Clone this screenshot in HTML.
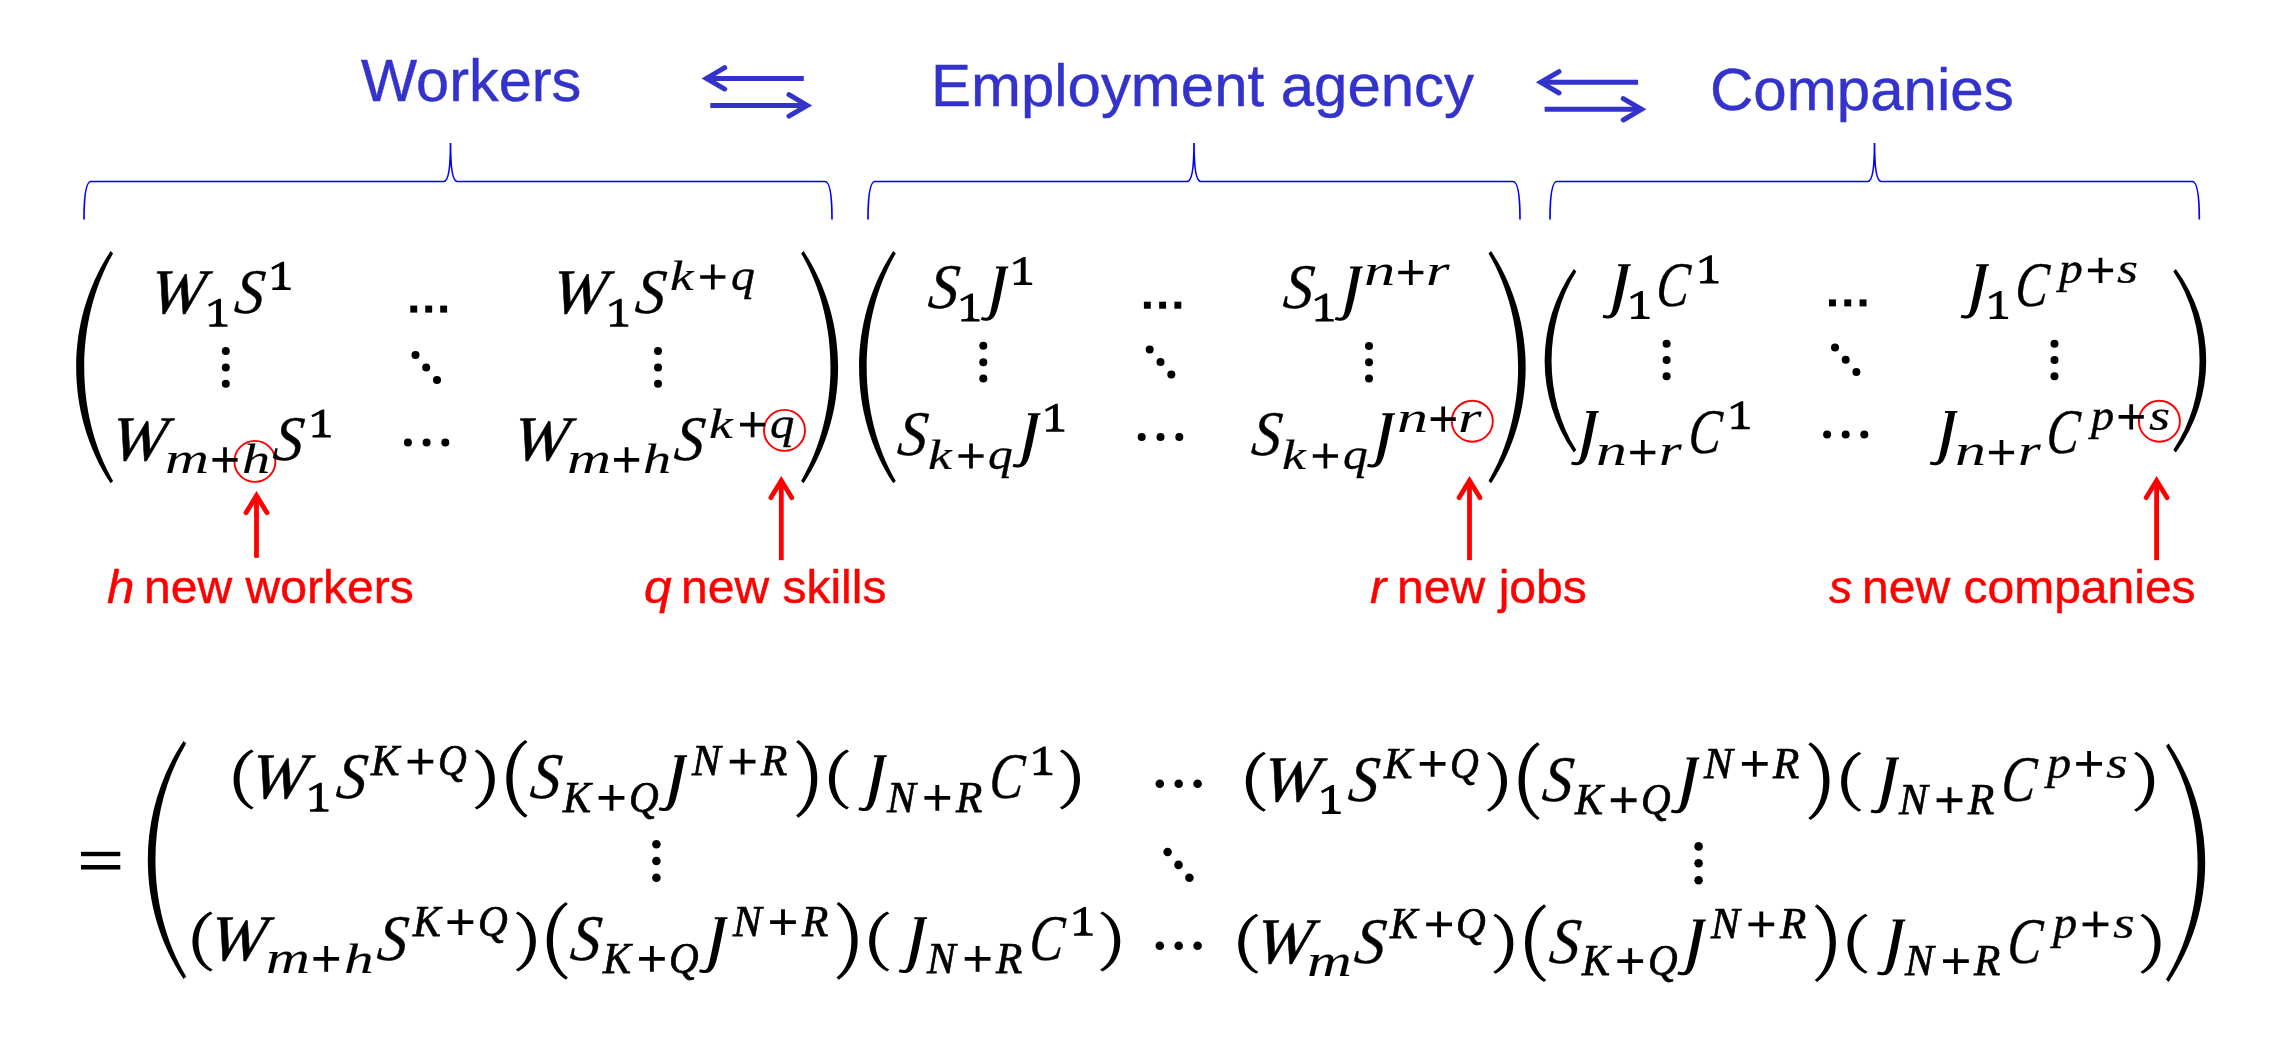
<!DOCTYPE html>
<html><head><meta charset="utf-8"><title>Workers - Employment agency - Companies</title>
<style>
html,body{margin:0;padding:0;background:#fff}
#p{position:relative;width:2280px;height:1052px;overflow:hidden;background:#fff}
.g{position:absolute;line-height:1;white-space:pre;transform-origin:0 0;color:#000}
.si{font-family:"Liberation Serif",serif;font-style:italic}
.si{-webkit-text-stroke:0.55px #000}
.sm{-webkit-text-stroke:0.45px #000}
.su{-webkit-text-stroke:0.75px #000}
.ts{-webkit-text-stroke:0.45px currentColor}
.sr{font-family:"Liberation Serif",serif}
.sa{font-family:"Liberation Sans",sans-serif}
.sai{font-family:"Liberation Sans",sans-serif;font-style:italic}
svg{position:absolute;left:0;top:0}
#t{position:absolute;left:0;top:0;width:2280px;height:1052px;will-change:transform}
</style></head>
<body><div id="p">
<svg width="2280" height="1052" viewBox="0 0 2280 1052">
<g stroke="#3333cc" stroke-width="5.0" fill="none" stroke-linecap="round" stroke-linejoin="miter" stroke-miterlimit="10"><path d="M706.5 78.4H803.8" stroke-linecap="butt"/><path d="M724.7 67.7L706.5 78.4L724.7 89.1"/><path d="M710.3 105.4H807.2" stroke-linecap="butt"/><path d="M789.0 94.7L807.2 105.4L789.0 116.1"/></g>
<g stroke="#3333cc" stroke-width="5.0" fill="none" stroke-linecap="round" stroke-linejoin="miter" stroke-miterlimit="10"><path d="M1540.8 82.3H1638.1" stroke-linecap="butt"/><path d="M1559.0 71.6L1540.8 82.3L1559.0 93.0"/><path d="M1544.6 109.3H1641.5" stroke-linecap="butt"/><path d="M1623.3 98.6L1641.5 109.3L1623.3 120.0"/></g>
<path d="M84 219.5Q84 181.5 91 181.5H443.7Q450.5 181.5 450.5 143Q450.5 181.5 457.3 181.5H825Q832 181.5 832 219.5" fill="none" stroke="#0000ff" stroke-width="1.7"/>
<path d="M868 219.5Q868 181.5 875 181.5H1187.2Q1194 181.5 1194 143Q1194 181.5 1200.8 181.5H1513Q1520 181.5 1520 219.5" fill="none" stroke="#0000ff" stroke-width="1.7"/>
<path d="M1550 219.5Q1550 181.5 1557 181.5H1867.7Q1874.5 181.5 1874.5 143Q1874.5 181.5 1881.3 181.5H2192.3Q2199.3 181.5 2199.3 219.5" fill="none" stroke="#0000ff" stroke-width="1.7"/>
<g stroke="#ff0000" stroke-width="4.8" fill="none" stroke-linecap="round" stroke-linejoin="miter" stroke-miterlimit="10"><path d="M256.5 495.6V557.8" stroke-linecap="butt"/><path d="M246.0 512.8L256.5 495.6L267.0 512.8"/></g>
<g stroke="#ff0000" stroke-width="4.8" fill="none" stroke-linecap="round" stroke-linejoin="miter" stroke-miterlimit="10"><path d="M781.3 480.6V560.2" stroke-linecap="butt"/><path d="M770.8 497.8L781.3 480.6L791.8 497.8"/></g>
<g stroke="#ff0000" stroke-width="4.8" fill="none" stroke-linecap="round" stroke-linejoin="miter" stroke-miterlimit="10"><path d="M1469.5 480.6V560.2" stroke-linecap="butt"/><path d="M1459.0 497.8L1469.5 480.6L1480.0 497.8"/></g>
<g stroke="#ff0000" stroke-width="4.8" fill="none" stroke-linecap="round" stroke-linejoin="miter" stroke-miterlimit="10"><path d="M2156.6 480.6V560.2" stroke-linecap="butt"/><path d="M2146.1 497.8L2156.6 480.6L2167.1 497.8"/></g>
<circle cx="254.9" cy="461.4" r="20.5" fill="none" stroke="#ff0000" stroke-width="1.9"/>
<circle cx="784.5" cy="430.4" r="20.5" fill="none" stroke="#ff0000" stroke-width="1.9"/>
<circle cx="1472.3" cy="421.2" r="20.5" fill="none" stroke="#ff0000" stroke-width="1.9"/>
<circle cx="2159.4" cy="421.2" r="20.5" fill="none" stroke="#ff0000" stroke-width="1.9"/>
<path d="M110.6 251.0C64.7 320.7 64.7 413.6 110.6 483.3L113.1 480.9C74.6 413.6 74.6 320.7 113.1 253.4Z" fill="#000"/>
<path d="M803.6 251.0C849.6 320.7 849.6 413.6 803.6 483.3L801.1 480.9C840.3 413.6 840.3 320.7 801.1 253.4Z" fill="#000"/>
<path d="M209.21 326.80L209.21 324.45L212.62 324.35Q216.08 324.14 216.08 321.69L216.08 303.20L209.41 306.67L208.07 304.52L218.92 298.70L220.94 298.70L220.94 321.69Q220.94 324.14 224.40 324.35L227.50 324.45L227.50 326.80Z" fill="#000"/>
<path d="M272.41 289.90L272.41 287.55L275.82 287.45Q279.28 287.24 279.28 284.79L279.28 266.30L272.61 269.77L271.27 267.62L282.12 261.80L284.13 261.80L284.13 284.79Q284.13 287.24 287.60 287.45L290.70 287.55L290.70 289.90Z" fill="#000"/>
<rect x="410.30" y="305.60" width="6.9" height="7.0" fill="#000"/>
<rect x="425.25" y="305.60" width="6.9" height="7.0" fill="#000"/>
<rect x="440.20" y="305.60" width="6.9" height="7.0" fill="#000"/>
<path d="M610.01 326.80L610.01 324.45L613.42 324.35Q616.88 324.14 616.88 321.69L616.88 303.20L610.21 306.67L608.87 304.52L619.72 298.70L621.74 298.70L621.74 321.69Q621.74 324.14 625.20 324.35L628.30 324.45L628.30 326.80Z" fill="#000"/>
<path d="M700.2 277.0H725.4M712.8 264.4V289.6" stroke="#000" stroke-width="3.7" fill="none"/>
<circle cx="225.8" cy="351.0" r="4.00" fill="#000"/>
<circle cx="225.8" cy="367.4" r="4.00" fill="#000"/>
<circle cx="225.8" cy="383.8" r="4.00" fill="#000"/>
<circle cx="415.5" cy="355.0" r="4.00" fill="#000"/>
<circle cx="426.2" cy="367.4" r="4.00" fill="#000"/>
<circle cx="437.0" cy="379.9" r="4.00" fill="#000"/>
<circle cx="658.0" cy="351.0" r="4.00" fill="#000"/>
<circle cx="658.0" cy="367.4" r="4.00" fill="#000"/>
<circle cx="658.0" cy="383.8" r="4.00" fill="#000"/>
<path d="M212.4 459.9H237.6M225.0 447.3V472.5" stroke="#000" stroke-width="3.7" fill="none"/>
<path d="M312.51 437.50L312.51 435.15L315.92 435.05Q319.38 434.84 319.38 432.39L319.38 413.90L312.71 417.37L311.37 415.22L322.22 409.40L324.24 409.40L324.24 432.39Q324.24 434.84 327.70 435.05L330.80 435.15L330.80 437.50Z" fill="#000"/>
<circle cx="407.9" cy="442.4" r="4.00" fill="#000"/>
<circle cx="426.6" cy="442.4" r="4.00" fill="#000"/>
<circle cx="445.3" cy="442.4" r="4.00" fill="#000"/>
<path d="M614.0 459.9H639.2M626.6 447.3V472.5" stroke="#000" stroke-width="3.7" fill="none"/>
<path d="M740.0 424.7H765.2M752.6 412.1V437.3" stroke="#000" stroke-width="3.7" fill="none"/>
<path d="M893.2 251.0C847.7 320.7 847.7 413.6 893.2 483.3L895.8 480.9C857.0 413.6 857.0 320.7 895.8 253.4Z" fill="#000"/>
<path d="M1491.1 251.0C1537.2 320.7 1537.2 413.6 1491.1 483.3L1488.5 480.9C1528.0 413.6 1528.0 320.7 1488.5 253.4Z" fill="#000"/>
<path d="M961.31 321.50L961.31 319.15L964.72 319.05Q968.18 318.84 968.18 316.39L968.18 297.90L961.51 301.37L960.17 299.22L971.02 293.40L973.04 293.40L973.04 316.39Q973.04 318.84 976.50 319.05L979.60 319.15L979.60 321.50Z" fill="#000"/>
<path d="M995.84 266.50L1008.40 266.50L1008.02 268.16L1006.01 268.25L1000.00 298.67L998.37 305.10C996.75 312.81 994.08 320.80 987.11 320.80C984.72 320.80 982.33 320.41 980.90 319.73L981.85 317.10C983.29 317.58 984.91 317.78 986.25 317.78C989.11 317.78 990.26 313.29 991.12 309.00L993.31 298.67L999.33 268.45L996.18 268.45Z" fill="#000"/>
<path d="M1013.91 285.00L1013.91 282.65L1017.32 282.55Q1020.78 282.34 1020.78 279.89L1020.78 261.40L1014.11 264.87L1012.77 262.72L1023.62 256.90L1025.63 256.90L1025.63 279.89Q1025.63 282.34 1029.10 282.55L1032.20 282.65L1032.20 285.00Z" fill="#000"/>
<rect x="1143.90" y="301.70" width="6.9" height="7.0" fill="#000"/>
<rect x="1159.15" y="301.70" width="6.9" height="7.0" fill="#000"/>
<rect x="1174.40" y="301.70" width="6.9" height="7.0" fill="#000"/>
<path d="M1315.51 321.50L1315.51 319.15L1318.92 319.05Q1322.38 318.84 1322.38 316.39L1322.38 297.90L1315.71 301.37L1314.37 299.22L1325.22 293.40L1327.23 293.40L1327.23 316.39Q1327.23 318.84 1330.70 319.05L1333.80 319.15L1333.80 321.50Z" fill="#000"/>
<path d="M1350.02 266.50L1362.80 266.50L1362.41 268.16L1360.37 268.25L1354.24 298.67L1352.59 305.10C1350.94 312.81 1348.22 320.80 1341.12 320.80C1338.69 320.80 1336.26 320.41 1334.80 319.73L1335.77 317.10C1337.23 317.58 1338.88 317.78 1340.24 317.78C1343.16 317.78 1344.33 313.29 1345.20 309.00L1347.44 298.67L1353.56 268.45L1350.36 268.45Z" fill="#000"/>
<path d="M1398.2 272.5H1423.4M1410.8 259.9V285.0" stroke="#000" stroke-width="3.7" fill="none"/>
<circle cx="983.3" cy="345.8" r="4.00" fill="#000"/>
<circle cx="983.3" cy="362.2" r="4.00" fill="#000"/>
<circle cx="983.3" cy="378.5" r="4.00" fill="#000"/>
<circle cx="1149.7" cy="349.6" r="4.00" fill="#000"/>
<circle cx="1160.5" cy="362.0" r="4.00" fill="#000"/>
<circle cx="1171.3" cy="374.4" r="4.00" fill="#000"/>
<circle cx="1369.0" cy="346.0" r="4.00" fill="#000"/>
<circle cx="1369.0" cy="362.2" r="4.00" fill="#000"/>
<circle cx="1369.0" cy="378.4" r="4.00" fill="#000"/>
<path d="M958.4 456.0H983.6M971.0 443.4V468.6" stroke="#000" stroke-width="3.7" fill="none"/>
<path d="M1027.87 413.20L1040.70 413.20L1040.31 414.86L1038.26 414.95L1032.11 445.37L1030.46 451.80C1028.80 459.51 1026.06 467.50 1018.94 467.50C1016.50 467.50 1014.06 467.11 1012.60 466.43L1013.58 463.80C1015.04 464.28 1016.70 464.48 1018.06 464.48C1020.99 464.48 1022.16 459.99 1023.04 455.70L1025.28 445.37L1031.43 415.15L1028.21 415.15Z" fill="#000"/>
<path d="M1046.11 431.80L1046.11 429.45L1049.52 429.35Q1052.98 429.14 1052.98 426.69L1052.98 408.20L1046.31 411.67L1044.97 409.52L1055.82 403.70L1057.84 403.70L1057.84 426.69Q1057.84 429.14 1061.30 429.35L1064.40 429.45L1064.40 431.80Z" fill="#000"/>
<circle cx="1141.7" cy="437.1" r="4.00" fill="#000"/>
<circle cx="1160.5" cy="437.1" r="4.00" fill="#000"/>
<circle cx="1179.3" cy="437.1" r="4.00" fill="#000"/>
<path d="M1312.8 456.0H1338.0M1325.4 443.4V468.6" stroke="#000" stroke-width="3.7" fill="none"/>
<path d="M1382.27 413.20L1395.10 413.20L1394.71 414.86L1392.66 414.95L1386.51 445.37L1384.86 451.80C1383.20 459.51 1380.46 467.50 1373.34 467.50C1370.90 467.50 1368.46 467.11 1367.00 466.43L1367.98 463.80C1369.44 464.28 1371.10 464.48 1372.46 464.48C1375.39 464.48 1376.56 459.99 1377.44 455.70L1379.68 445.37L1385.83 415.15L1382.61 415.15Z" fill="#000"/>
<path d="M1430.6 419.1H1455.8M1443.2 406.5V431.7" stroke="#000" stroke-width="3.7" fill="none"/>
<path d="M1573.8 269.0C1535.0 324.0 1535.0 397.4 1573.8 452.4L1576.3 450.0C1543.4 397.4 1543.4 324.0 1576.3 271.4Z" fill="#000"/>
<path d="M2175.9 269.0C2216.4 324.0 2216.4 397.4 2175.9 452.4L2173.3 450.0C2208.4 397.4 2208.4 324.0 2173.3 271.4Z" fill="#000"/>
<path d="M1617.99 264.20L1631.00 264.20L1630.60 265.86L1628.53 265.95L1622.29 296.37L1620.61 302.80C1618.93 310.51 1616.16 318.50 1608.93 318.50C1606.46 318.50 1603.98 318.11 1602.50 317.43L1603.49 314.80C1604.97 315.28 1606.66 315.48 1608.04 315.48C1611.01 315.48 1612.20 310.99 1613.09 306.70L1615.36 296.37L1621.60 266.15L1618.33 266.15Z" fill="#000"/>
<path d="M1631.21 319.10L1631.21 316.75L1634.62 316.65Q1638.08 316.44 1638.08 313.99L1638.08 295.50L1631.41 298.97L1630.07 296.82L1640.92 291.00L1642.93 291.00L1642.93 313.99Q1642.93 316.44 1646.40 316.65L1649.50 316.75L1649.50 319.10Z" fill="#000"/>
<path d="M1700.21 283.40L1700.21 281.05L1703.62 280.95Q1707.08 280.74 1707.08 278.29L1707.08 259.80L1700.41 263.27L1699.07 261.12L1709.92 255.30L1711.93 255.30L1711.93 278.29Q1711.93 280.74 1715.40 280.95L1718.50 281.05L1718.50 283.40Z" fill="#000"/>
<rect x="1829.00" y="299.40" width="6.9" height="7.0" fill="#000"/>
<rect x="1844.30" y="299.40" width="6.9" height="7.0" fill="#000"/>
<rect x="1859.60" y="299.40" width="6.9" height="7.0" fill="#000"/>
<path d="M1976.09 264.20L1989.10 264.20L1988.70 265.86L1986.63 265.95L1980.39 296.37L1978.71 302.80C1977.03 310.51 1974.26 318.50 1967.03 318.50C1964.56 318.50 1962.08 318.11 1960.60 317.43L1961.59 314.80C1963.07 315.28 1964.76 315.48 1966.14 315.48C1969.11 315.48 1970.30 310.99 1971.19 306.70L1973.46 296.37L1979.70 266.15L1976.43 266.15Z" fill="#000"/>
<path d="M1989.81 319.10L1989.81 316.75L1993.22 316.65Q1996.68 316.44 1996.68 313.99L1996.68 295.50L1990.01 298.97L1988.67 296.82L1999.52 291.00L2001.53 291.00L2001.53 313.99Q2001.53 316.44 2005.00 316.65L2008.10 316.75L2008.10 319.10Z" fill="#000"/>
<path d="M2087.9 270.4H2113.1M2100.5 257.8V283.0" stroke="#000" stroke-width="3.7" fill="none"/>
<circle cx="1666.6" cy="343.7" r="4.00" fill="#000"/>
<circle cx="1666.6" cy="360.0" r="4.00" fill="#000"/>
<circle cx="1666.6" cy="376.3" r="4.00" fill="#000"/>
<circle cx="1835.0" cy="347.5" r="4.00" fill="#000"/>
<circle cx="1845.7" cy="359.8" r="4.00" fill="#000"/>
<circle cx="1856.4" cy="372.1" r="4.00" fill="#000"/>
<circle cx="2054.5" cy="343.7" r="4.00" fill="#000"/>
<circle cx="2054.5" cy="360.0" r="4.00" fill="#000"/>
<circle cx="2054.5" cy="376.3" r="4.00" fill="#000"/>
<path d="M1586.16 411.00L1598.90 411.00L1598.51 412.66L1596.48 412.75L1590.38 443.17L1588.73 449.60C1587.08 457.31 1584.37 465.30 1577.30 465.30C1574.88 465.30 1572.45 464.91 1571.00 464.23L1571.97 461.60C1573.42 462.08 1575.07 462.28 1576.42 462.28C1579.33 462.28 1580.49 457.79 1581.37 453.50L1583.59 443.17L1589.70 412.95L1586.50 412.95Z" fill="#000"/>
<path d="M1630.2 452.5H1655.4M1642.8 439.9V465.1" stroke="#000" stroke-width="3.7" fill="none"/>
<path d="M1731.51 429.30L1731.51 426.95L1734.92 426.85Q1738.38 426.64 1738.38 424.19L1738.38 405.70L1731.71 409.17L1730.37 407.02L1741.22 401.20L1743.23 401.20L1743.23 424.19Q1743.23 426.64 1746.70 426.85L1749.80 426.95L1749.80 429.30Z" fill="#000"/>
<circle cx="1827.1" cy="434.5" r="4.00" fill="#000"/>
<circle cx="1845.7" cy="434.5" r="4.00" fill="#000"/>
<circle cx="1864.3" cy="434.5" r="4.00" fill="#000"/>
<path d="M1944.86 411.00L1957.60 411.00L1957.21 412.66L1955.18 412.75L1949.08 443.17L1947.43 449.60C1945.78 457.31 1943.07 465.30 1936.00 465.30C1933.58 465.30 1931.15 464.91 1929.70 464.23L1930.67 461.60C1932.12 462.08 1933.77 462.28 1935.12 462.28C1938.03 462.28 1939.19 457.79 1940.07 453.50L1942.29 443.17L1948.40 412.95L1945.20 412.95Z" fill="#000"/>
<path d="M1989.0 452.5H2014.1M2001.5 439.9V465.1" stroke="#000" stroke-width="3.7" fill="none"/>
<path d="M2118.6 416.9H2143.8M2131.2 404.3V429.5" stroke="#000" stroke-width="3.7" fill="none"/>
<rect x="81.0" y="851.8" width="39.3" height="4.4" fill="#000"/><rect x="81.0" y="865.0" width="39.3" height="4.5" fill="#000"/>
<path d="M183.6 741.0C135.9 812.4 135.9 907.6 183.6 979.0L186.2 976.6C145.2 907.6 145.2 812.4 186.2 743.4Z" fill="#000"/>
<path d="M2168.6 743.5C2217.4 815.0 2217.4 910.5 2168.6 982.0L2166.0 979.6C2208.1 910.5 2208.1 815.0 2166.0 745.9Z" fill="#000"/>
<path d="M251.5 749.4C227.6 760.8 227.6 798.0 251.5 809.4L253.7 807.4C234.9 798.0 234.9 760.8 253.7 751.4Z" fill="#000"/>
<path d="M309.91 811.70L309.91 809.28L313.38 809.18Q316.89 808.97 316.89 806.45L316.89 787.42L310.12 791.00L308.75 788.79L319.78 782.80L321.83 782.80L321.83 806.45Q321.83 808.97 325.34 809.18L328.49 809.28L328.49 811.70Z" fill="#000"/>
<path d="M407.6 761.6H433.3M420.4 748.7V774.5" stroke="#000" stroke-width="3.85" fill="none"/>
<path d="M476.9 749.4C500.8 760.8 500.8 798.0 476.9 809.4L474.7 807.4C493.5 798.0 493.5 760.8 474.7 751.4Z" fill="#000"/>
<path d="M525.2 740.0C500.0 756.3 500.0 801.4 525.2 817.7L527.5 815.6C507.6 801.4 507.6 756.3 527.5 742.1Z" fill="#000"/>
<path d="M598.6 797.9H624.4M611.5 785.0V810.8" stroke="#000" stroke-width="3.85" fill="none"/>
<path d="M674.20 755.30L687.30 755.30L686.90 757.00L684.81 757.10L678.53 788.33L676.84 794.94C675.14 802.84 672.35 811.05 665.08 811.05C662.59 811.05 660.09 810.65 658.60 809.95L659.60 807.25C661.09 807.75 662.79 807.95 664.18 807.95C667.17 807.95 668.37 803.34 669.26 798.94L671.55 788.33L677.83 757.30L674.54 757.30Z" fill="#000"/>
<path d="M729.7 761.6H755.5M742.6 748.7V774.5" stroke="#000" stroke-width="3.85" fill="none"/>
<path d="M798.4 740.0C823.6 756.3 823.6 801.4 798.4 817.7L796.1 815.6C816.0 801.4 816.0 756.3 796.1 742.1Z" fill="#000"/>
<path d="M846.8 749.4C822.9 760.8 822.9 798.0 846.8 809.4L849.0 807.4C830.2 798.0 830.2 760.8 849.0 751.4Z" fill="#000"/>
<path d="M873.89 755.30L886.90 755.30L886.50 757.00L884.43 757.10L878.19 788.33L876.51 794.94C874.83 802.84 872.06 811.05 864.83 811.05C862.36 811.05 859.88 810.65 858.40 809.95L859.39 807.25C860.87 807.75 862.56 807.95 863.94 807.95C866.91 807.95 868.10 803.34 868.99 798.94L871.26 788.33L877.50 757.30L874.23 757.30Z" fill="#000"/>
<path d="M924.4 797.9H950.2M937.3 785.0V810.8" stroke="#000" stroke-width="3.85" fill="none"/>
<path d="M1033.81 775.30L1033.81 772.88L1037.27 772.78Q1040.79 772.57 1040.79 770.05L1040.79 751.02L1034.02 754.60L1032.65 752.39L1043.68 746.40L1045.73 746.40L1045.73 770.05Q1045.73 772.57 1049.24 772.78L1052.39 772.88L1052.39 775.30Z" fill="#000"/>
<path d="M1062.1 749.4C1086.0 760.8 1086.0 798.0 1062.1 809.4L1059.9 807.4C1078.7 798.0 1078.7 760.8 1059.9 751.4Z" fill="#000"/>
<circle cx="1159.8" cy="783.8" r="4.30" fill="#000"/>
<circle cx="1178.7" cy="783.8" r="4.30" fill="#000"/>
<circle cx="1197.6" cy="783.8" r="4.30" fill="#000"/>
<path d="M1263.7 751.7C1239.8 763.1 1239.8 800.3 1263.7 811.7L1265.9 809.7C1247.1 800.3 1247.1 763.1 1265.9 753.7Z" fill="#000"/>
<path d="M1322.11 814.00L1322.11 811.58L1325.57 811.48Q1329.09 811.27 1329.09 808.75L1329.09 789.72L1322.32 793.30L1320.95 791.09L1331.98 785.10L1334.03 785.10L1334.03 808.75Q1334.03 811.27 1337.54 811.48L1340.69 811.58L1340.69 814.00Z" fill="#000"/>
<path d="M1419.7 763.9H1445.5M1432.6 751.0V776.8" stroke="#000" stroke-width="3.85" fill="none"/>
<path d="M1489.1 751.7C1513.0 763.1 1513.0 800.3 1489.1 811.7L1486.9 809.7C1505.7 800.3 1505.7 763.1 1486.9 753.7Z" fill="#000"/>
<path d="M1537.5 742.3C1512.2 758.6 1512.2 803.7 1537.5 820.0L1539.7 817.9C1519.8 803.7 1519.8 758.6 1539.7 744.4Z" fill="#000"/>
<path d="M1610.8 800.2H1636.6M1623.7 787.3V813.1" stroke="#000" stroke-width="3.85" fill="none"/>
<path d="M1686.40 757.60L1699.50 757.60L1699.10 759.30L1697.01 759.40L1690.73 790.63L1689.04 797.24C1687.34 805.14 1684.55 813.35 1677.28 813.35C1674.79 813.35 1672.29 812.95 1670.80 812.25L1671.80 809.55C1673.29 810.05 1674.99 810.25 1676.38 810.25C1679.37 810.25 1680.57 805.64 1681.46 801.24L1683.75 790.63L1690.03 759.60L1686.74 759.60Z" fill="#000"/>
<path d="M1741.9 763.9H1767.7M1754.8 751.0V776.8" stroke="#000" stroke-width="3.85" fill="none"/>
<path d="M1810.5 742.3C1835.8 758.6 1835.8 803.7 1810.5 820.0L1808.3 817.9C1828.2 803.7 1828.2 758.6 1808.3 744.4Z" fill="#000"/>
<path d="M1859.0 751.7C1835.1 763.1 1835.1 800.3 1859.0 811.7L1861.2 809.7C1842.4 800.3 1842.4 763.1 1861.2 753.7Z" fill="#000"/>
<path d="M1886.09 757.60L1899.10 757.60L1898.70 759.30L1896.63 759.40L1890.39 790.63L1888.71 797.24C1887.03 805.14 1884.26 813.35 1877.03 813.35C1874.56 813.35 1872.08 812.95 1870.60 812.25L1871.59 809.55C1873.07 810.05 1874.76 810.25 1876.14 810.25C1879.11 810.25 1880.30 805.64 1881.19 801.24L1883.46 790.63L1889.70 759.60L1886.43 759.60Z" fill="#000"/>
<path d="M1936.6 800.2H1962.4M1949.5 787.3V813.1" stroke="#000" stroke-width="3.85" fill="none"/>
<path d="M2076.2 763.9H2102.0M2089.1 751.0V776.8" stroke="#000" stroke-width="3.85" fill="none"/>
<path d="M2136.3 751.7C2160.2 763.1 2160.2 800.3 2136.3 811.7L2134.1 809.7C2152.9 800.3 2152.9 763.1 2134.1 753.7Z" fill="#000"/>
<circle cx="656.4" cy="844.3" r="4.30" fill="#000"/>
<circle cx="656.4" cy="861.0" r="4.30" fill="#000"/>
<circle cx="656.4" cy="877.7" r="4.30" fill="#000"/>
<circle cx="1167.6" cy="852.0" r="4.30" fill="#000"/>
<circle cx="1178.5" cy="864.9" r="4.30" fill="#000"/>
<circle cx="1189.4" cy="877.8" r="4.30" fill="#000"/>
<circle cx="1698.6" cy="846.4" r="4.30" fill="#000"/>
<circle cx="1698.6" cy="863.3" r="4.30" fill="#000"/>
<circle cx="1698.6" cy="880.2" r="4.30" fill="#000"/>
<path d="M210.4 911.4C186.5 922.8 186.5 960.0 210.4 971.4L212.6 969.4C193.8 960.0 193.8 922.8 212.6 913.4Z" fill="#000"/>
<path d="M313.4 958.8H339.1M326.2 945.9V971.7" stroke="#000" stroke-width="3.85" fill="none"/>
<path d="M447.5 922.1H473.3M460.4 909.2V935.0" stroke="#000" stroke-width="3.85" fill="none"/>
<path d="M518.0 911.4C541.9 922.8 541.9 960.0 518.0 971.4L515.8 969.4C534.6 960.0 534.6 922.8 515.8 913.4Z" fill="#000"/>
<path d="M565.7 902.0C540.4 918.3 540.4 963.4 565.7 979.7L567.9 977.6C548.0 963.4 548.0 918.3 567.9 904.1Z" fill="#000"/>
<path d="M639.0 958.8H664.8M651.9 945.9V971.7" stroke="#000" stroke-width="3.85" fill="none"/>
<path d="M714.60 917.30L727.70 917.30L727.30 919.00L725.21 919.10L718.93 950.33L717.24 956.94C715.54 964.84 712.75 973.05 705.48 973.05C702.99 973.05 700.49 972.65 699.00 971.95L700.00 969.25C701.49 969.75 703.19 969.95 704.58 969.95C707.57 969.95 708.77 965.34 709.66 960.94L711.95 950.33L718.23 919.30L714.94 919.30Z" fill="#000"/>
<path d="M770.1 922.1H795.9M783.0 909.2V935.0" stroke="#000" stroke-width="3.85" fill="none"/>
<path d="M838.8 902.0C864.0 918.3 864.0 963.4 838.8 979.7L836.5 977.6C856.4 963.4 856.4 918.3 836.5 904.1Z" fill="#000"/>
<path d="M887.1 911.4C863.2 922.8 863.2 960.0 887.1 971.4L889.3 969.4C870.5 960.0 870.5 922.8 889.3 913.4Z" fill="#000"/>
<path d="M914.19 917.30L927.20 917.30L926.80 919.00L924.73 919.10L918.49 950.33L916.81 956.94C915.13 964.84 912.36 973.05 905.13 973.05C902.66 973.05 900.18 972.65 898.70 971.95L899.69 969.25C901.17 969.75 902.86 969.95 904.24 969.95C907.21 969.95 908.40 965.34 909.29 960.94L911.56 950.33L917.80 919.30L914.53 919.30Z" fill="#000"/>
<path d="M964.7 958.8H990.5M977.6 945.9V971.7" stroke="#000" stroke-width="3.85" fill="none"/>
<path d="M1074.11 935.80L1074.11 933.38L1077.58 933.28Q1081.09 933.07 1081.09 930.55L1081.09 911.52L1074.32 915.10L1072.96 912.89L1083.98 906.90L1086.03 906.90L1086.03 930.55Q1086.03 933.07 1089.55 933.28L1092.70 933.38L1092.70 935.80Z" fill="#000"/>
<path d="M1102.4 911.4C1126.3 922.8 1126.3 960.0 1102.4 971.4L1100.2 969.4C1119.0 960.0 1119.0 922.8 1100.2 913.4Z" fill="#000"/>
<circle cx="1159.8" cy="945.7" r="4.30" fill="#000"/>
<circle cx="1178.7" cy="945.7" r="4.30" fill="#000"/>
<circle cx="1197.6" cy="945.7" r="4.30" fill="#000"/>
<path d="M1256.2 913.7C1232.3 925.1 1232.3 962.3 1256.2 973.7L1258.4 971.7C1239.6 962.3 1239.6 925.1 1258.4 915.7Z" fill="#000"/>
<path d="M1426.2 924.4H1452.0M1439.1 911.5V937.3" stroke="#000" stroke-width="3.85" fill="none"/>
<path d="M1495.5 913.7C1519.4 925.1 1519.4 962.3 1495.5 973.7L1493.3 971.7C1512.1 962.3 1512.1 925.1 1493.3 915.7Z" fill="#000"/>
<path d="M1544.0 904.3C1518.7 920.6 1518.7 965.7 1544.0 982.0L1546.2 979.9C1526.3 965.7 1526.3 920.6 1546.2 906.4Z" fill="#000"/>
<path d="M1617.3 961.1H1643.1M1630.2 948.2V974.0" stroke="#000" stroke-width="3.85" fill="none"/>
<path d="M1692.90 919.60L1706.00 919.60L1705.60 921.30L1703.51 921.40L1697.23 952.63L1695.54 959.24C1693.84 967.14 1691.05 975.35 1683.78 975.35C1681.29 975.35 1678.79 974.95 1677.30 974.25L1678.30 971.55C1679.79 972.05 1681.49 972.25 1682.88 972.25C1685.87 972.25 1687.07 967.64 1687.96 963.24L1690.25 952.63L1696.53 921.60L1693.24 921.60Z" fill="#000"/>
<path d="M1748.4 924.4H1774.2M1761.3 911.5V937.3" stroke="#000" stroke-width="3.85" fill="none"/>
<path d="M1817.0 904.3C1842.3 920.6 1842.3 965.7 1817.0 982.0L1814.8 979.9C1834.7 965.7 1834.7 920.6 1814.8 906.4Z" fill="#000"/>
<path d="M1865.4 913.7C1841.5 925.1 1841.5 962.3 1865.4 973.7L1867.6 971.7C1848.8 962.3 1848.8 925.1 1867.6 915.7Z" fill="#000"/>
<path d="M1892.49 919.60L1905.50 919.60L1905.10 921.30L1903.03 921.40L1896.79 952.63L1895.11 959.24C1893.43 967.14 1890.66 975.35 1883.43 975.35C1880.96 975.35 1878.48 974.95 1877.00 974.25L1877.99 971.55C1879.47 972.05 1881.16 972.25 1882.54 972.25C1885.51 972.25 1886.70 967.64 1887.59 963.24L1889.86 952.63L1896.10 921.60L1892.83 921.60Z" fill="#000"/>
<path d="M1943.0 961.1H1968.8M1955.9 948.2V974.0" stroke="#000" stroke-width="3.85" fill="none"/>
<path d="M2082.6 924.4H2108.4M2095.5 911.5V937.3" stroke="#000" stroke-width="3.85" fill="none"/>
<path d="M2142.7 913.7C2166.6 925.1 2166.6 962.3 2142.7 973.7L2140.5 971.7C2159.3 962.3 2159.3 925.1 2140.5 915.7Z" fill="#000"/>
</svg>
<div id="t">
<span class="g sa ts" style="left:360.74px;top:52.20px;font-size:59.0px;color:#3333cc;transform:scale(1.0082,1)">Workers</span>
<span class="g sa ts" style="left:931.08px;top:56.50px;font-size:59.0px;color:#3333cc;transform:scale(1.0159,1)">Employment agency</span>
<span class="g sa ts" style="left:1710.45px;top:61.30px;font-size:59.0px;color:#3333cc;transform:scale(1.0177,1)">Companies</span>
<span class="g sai ts" style="left:107.38px;top:562.90px;font-size:47.0px;transform:scale(1.0473,1.0000);color:#ff0000">h</span>
<span class="g sa ts" style="left:144.21px;top:562.90px;font-size:47.0px;color:#ff0000;transform:scale(1.0225,1)">new workers</span>
<span class="g sai ts" style="left:643.63px;top:562.90px;font-size:47.0px;transform:scale(1.0564,1.0000);color:#ff0000">q</span>
<span class="g sa ts" style="left:681.41px;top:562.90px;font-size:47.0px;color:#ff0000;transform:scale(1.0215,1)">new skills</span>
<span class="g sai ts" style="left:1370.29px;top:562.90px;font-size:47.0px;transform:scale(1.0392,1.0000);color:#ff0000">r</span>
<span class="g sa ts" style="left:1397.30px;top:562.90px;font-size:47.0px;color:#ff0000;transform:scale(1.0239,1)">new jobs</span>
<span class="g sai ts" style="left:1829.29px;top:562.90px;font-size:47.0px;transform:scale(0.9901,1.0000);color:#ff0000">s</span>
<span class="g sa ts" style="left:1862.11px;top:562.90px;font-size:47.0px;color:#ff0000;transform:scale(1.0216,1)">new companies</span>
<span class="g si" style="left:154.40px;top:259.70px;font-size:63.5px;transform:scale(1.0432,1.0000) skewX(-5.71deg);-webkit-text-stroke-width:0.55px">W</span>
<span class="g si" style="left:238.51px;top:259.70px;font-size:63.5px;transform:scale(0.9187,1.0000) skewX(-6.84deg);-webkit-text-stroke-width:0.30px">S</span>
<span class="g si" style="left:556.21px;top:259.70px;font-size:63.5px;transform:scale(1.0395,1.0000) skewX(-5.71deg);-webkit-text-stroke-width:0.55px">W</span>
<span class="g si" style="left:639.89px;top:259.70px;font-size:63.5px;transform:scale(0.9331,1.0000) skewX(-6.84deg);-webkit-text-stroke-width:0.30px">S</span>
<span class="g si sm" style="left:669.58px;top:255.30px;font-size:45.0px;transform:scale(1.1740,0.9350);-webkit-text-stroke-width:0.24px">k</span>
<span class="g si sm" style="left:730.81px;top:252.90px;font-size:45.0px;transform:scale(1.0626,1.0000);-webkit-text-stroke-width:0.37px">q</span>
<span class="g si" style="left:114.96px;top:407.40px;font-size:63.5px;transform:scale(1.0544,1.0000) skewX(-5.71deg);-webkit-text-stroke-width:0.55px">W</span>
<span class="g si sm" style="left:165.30px;top:435.80px;font-size:45.0px;transform:scale(1.3560,1.0000);-webkit-text-stroke-width:0.02px">m</span>
<span class="g si sm" style="left:241.67px;top:438.20px;font-size:45.0px;transform:scale(1.2470,0.9350);-webkit-text-stroke-width:0.15px">h</span>
<span class="g si" style="left:277.76px;top:407.40px;font-size:63.5px;transform:scale(0.9273,1.0000) skewX(-6.84deg);-webkit-text-stroke-width:0.30px">S</span>
<span class="g si" style="left:516.56px;top:407.40px;font-size:63.5px;transform:scale(1.0544,1.0000) skewX(-5.71deg);-webkit-text-stroke-width:0.55px">W</span>
<span class="g si sm" style="left:566.90px;top:435.80px;font-size:45.0px;transform:scale(1.3560,1.0000);-webkit-text-stroke-width:0.02px">m</span>
<span class="g si sm" style="left:643.27px;top:438.20px;font-size:45.0px;transform:scale(1.2470,0.9350);-webkit-text-stroke-width:0.15px">h</span>
<span class="g si" style="left:679.36px;top:407.40px;font-size:63.5px;transform:scale(0.9273,1.0000) skewX(-6.84deg);-webkit-text-stroke-width:0.30px">S</span>
<span class="g si sm" style="left:709.07px;top:403.00px;font-size:45.0px;transform:scale(1.1792,0.9350);-webkit-text-stroke-width:0.24px">k</span>
<span class="g si sm" style="left:770.18px;top:400.60px;font-size:45.0px;transform:scale(1.0826,1.0000);-webkit-text-stroke-width:0.35px">q</span>
<span class="g si" style="left:933.43px;top:255.30px;font-size:63.5px;transform:scale(0.9418,1.0000) skewX(-6.84deg);-webkit-text-stroke-width:0.30px">S</span>
<span class="g si" style="left:1287.99px;top:255.30px;font-size:63.5px;transform:scale(0.9331,1.0000) skewX(-6.84deg);-webkit-text-stroke-width:0.30px">S</span>
<span class="g si sm" style="left:1364.27px;top:248.35px;font-size:45.0px;transform:scale(1.3927,1.0000);-webkit-text-stroke-width:0.00px">n</span>
<span class="g si sm" style="left:1425.74px;top:248.35px;font-size:45.0px;transform:scale(1.3464,1.0000);-webkit-text-stroke-width:0.03px">r</span>
<span class="g si" style="left:902.03px;top:402.00px;font-size:63.5px;transform:scale(0.9216,1.0000) skewX(-6.84deg);-webkit-text-stroke-width:0.30px">S</span>
<span class="g si sm" style="left:927.86px;top:434.30px;font-size:45.0px;transform:scale(1.1843,0.9350);-webkit-text-stroke-width:0.23px">k</span>
<span class="g si sm" style="left:988.16px;top:431.90px;font-size:45.0px;transform:scale(1.0977,1.0000);-webkit-text-stroke-width:0.33px">q</span>
<span class="g si" style="left:1256.43px;top:402.00px;font-size:63.5px;transform:scale(0.9216,1.0000) skewX(-6.84deg);-webkit-text-stroke-width:0.30px">S</span>
<span class="g si sm" style="left:1282.26px;top:434.30px;font-size:45.0px;transform:scale(1.1843,0.9350);-webkit-text-stroke-width:0.23px">k</span>
<span class="g si sm" style="left:1342.56px;top:431.90px;font-size:45.0px;transform:scale(1.0977,1.0000);-webkit-text-stroke-width:0.33px">q</span>
<span class="g si sm" style="left:1396.58px;top:395.00px;font-size:45.0px;transform:scale(1.3822,1.0000);-webkit-text-stroke-width:0.00px">n</span>
<span class="g si sm" style="left:1458.04px;top:395.00px;font-size:45.0px;transform:scale(1.3464,1.0000);-webkit-text-stroke-width:0.03px">r</span>
<span class="g si" style="left:1660.31px;top:253.00px;font-size:63.5px;transform:scale(0.7720,1.0000) skewX(-6.84deg);-webkit-text-stroke-width:0.40px">C</span>
<span class="g si" style="left:2018.81px;top:253.00px;font-size:63.5px;transform:scale(0.7720,1.0000) skewX(-6.84deg);-webkit-text-stroke-width:0.40px">C</span>
<span class="g si sm" style="left:2058.88px;top:246.30px;font-size:45.0px;transform:scale(1.0558,1.0000);-webkit-text-stroke-width:0.38px">p</span>
<span class="g si sm" style="left:2116.74px;top:246.30px;font-size:45.0px;transform:scale(1.2051,1.0000);-webkit-text-stroke-width:0.20px">s</span>
<span class="g si sm" style="left:1596.19px;top:428.40px;font-size:45.0px;transform:scale(1.3769,1.0000);-webkit-text-stroke-width:0.00px">n</span>
<span class="g si sm" style="left:1659.34px;top:428.40px;font-size:45.0px;transform:scale(1.2958,1.0000);-webkit-text-stroke-width:0.10px">r</span>
<span class="g si" style="left:1691.50px;top:399.80px;font-size:63.5px;transform:scale(0.7649,1.0000) skewX(-6.84deg);-webkit-text-stroke-width:0.40px">C</span>
<span class="g si sm" style="left:1954.89px;top:428.40px;font-size:45.0px;transform:scale(1.3769,1.0000);-webkit-text-stroke-width:0.00px">n</span>
<span class="g si sm" style="left:2018.04px;top:428.40px;font-size:45.0px;transform:scale(1.2958,1.0000);-webkit-text-stroke-width:0.10px">r</span>
<span class="g si" style="left:2050.20px;top:399.80px;font-size:63.5px;transform:scale(0.7649,1.0000) skewX(-6.84deg);-webkit-text-stroke-width:0.40px">C</span>
<span class="g si sm" style="left:2090.92px;top:392.80px;font-size:45.0px;transform:scale(1.0305,1.0000);-webkit-text-stroke-width:0.41px">p</span>
<span class="g si sm" style="left:2148.54px;top:392.80px;font-size:45.0px;transform:scale(1.2051,1.0000);-webkit-text-stroke-width:0.20px">s</span>
<span class="g si" style="left:254.69px;top:744.30px;font-size:65.0px;transform:scale(1.0464,1.0000) skewX(-5.71deg);-webkit-text-stroke-width:0.55px">W</span>
<span class="g si" style="left:340.52px;top:744.30px;font-size:65.0px;transform:scale(0.9229,1.0000) skewX(-6.84deg);-webkit-text-stroke-width:0.30px">S</span>
<span class="g si su" style="left:371.30px;top:739.30px;font-size:44.0px;transform:scale(0.9668,1.0000)">K</span>
<span class="g si su" style="left:437.80px;top:739.30px;font-size:44.0px;transform:scale(0.9043,1.0000)">Q</span>
<span class="g si" style="left:534.84px;top:744.30px;font-size:65.0px;transform:scale(0.9257,1.0000) skewX(-6.84deg);-webkit-text-stroke-width:0.30px">S</span>
<span class="g si su" style="left:562.99px;top:775.60px;font-size:44.0px;transform:scale(0.9542,1.0000)">K</span>
<span class="g si su" style="left:628.84px;top:775.60px;font-size:44.0px;transform:scale(0.9323,1.0000)">Q</span>
<span class="g si su" style="left:692.12px;top:739.30px;font-size:44.0px;transform:scale(0.9776,1.0000)">N</span>
<span class="g si su" style="left:761.13px;top:739.30px;font-size:44.0px;transform:scale(0.9779,1.0000)">R</span>
<span class="g si su" style="left:886.62px;top:775.60px;font-size:44.0px;transform:scale(0.9776,1.0000)">N</span>
<span class="g si su" style="left:955.63px;top:775.60px;font-size:44.0px;transform:scale(0.9779,1.0000)">R</span>
<span class="g si" style="left:992.72px;top:744.30px;font-size:65.0px;transform:scale(0.7863,1.0000) skewX(-6.84deg);-webkit-text-stroke-width:0.40px">C</span>
<span class="g si" style="left:1266.89px;top:746.60px;font-size:65.0px;transform:scale(1.0464,1.0000) skewX(-5.71deg);-webkit-text-stroke-width:0.55px">W</span>
<span class="g si" style="left:1352.72px;top:746.60px;font-size:65.0px;transform:scale(0.9229,1.0000) skewX(-6.84deg);-webkit-text-stroke-width:0.30px">S</span>
<span class="g si su" style="left:1383.50px;top:741.60px;font-size:44.0px;transform:scale(0.9668,1.0000)">K</span>
<span class="g si su" style="left:1450.00px;top:741.60px;font-size:44.0px;transform:scale(0.9043,1.0000)">Q</span>
<span class="g si" style="left:1547.04px;top:746.60px;font-size:65.0px;transform:scale(0.9257,1.0000) skewX(-6.84deg);-webkit-text-stroke-width:0.30px">S</span>
<span class="g si su" style="left:1575.19px;top:777.90px;font-size:44.0px;transform:scale(0.9542,1.0000)">K</span>
<span class="g si su" style="left:1641.04px;top:777.90px;font-size:44.0px;transform:scale(0.9323,1.0000)">Q</span>
<span class="g si su" style="left:1704.32px;top:741.60px;font-size:44.0px;transform:scale(0.9776,1.0000)">N</span>
<span class="g si su" style="left:1773.33px;top:741.60px;font-size:44.0px;transform:scale(0.9779,1.0000)">R</span>
<span class="g si su" style="left:1898.82px;top:777.90px;font-size:44.0px;transform:scale(0.9776,1.0000)">N</span>
<span class="g si su" style="left:1967.83px;top:777.90px;font-size:44.0px;transform:scale(0.9779,1.0000)">R</span>
<span class="g si" style="left:2004.92px;top:746.60px;font-size:65.0px;transform:scale(0.7863,1.0000) skewX(-6.84deg);-webkit-text-stroke-width:0.40px">C</span>
<span class="g si sm" style="left:2046.63px;top:739.60px;font-size:46.0px;transform:scale(1.0493,1.0000);-webkit-text-stroke-width:0.39px">p</span>
<span class="g si sm" style="left:2106.22px;top:739.60px;font-size:46.0px;transform:scale(1.2165,1.0000);-webkit-text-stroke-width:0.19px">s</span>
<span class="g si" style="left:214.39px;top:906.30px;font-size:65.0px;transform:scale(1.0464,1.0000) skewX(-5.71deg);-webkit-text-stroke-width:0.55px">W</span>
<span class="g si sm" style="left:266.10px;top:934.50px;font-size:46.0px;transform:scale(1.3232,1.0000);-webkit-text-stroke-width:0.06px">m</span>
<span class="g si sm" style="left:343.66px;top:936.97px;font-size:46.0px;transform:scale(1.2868,0.9350);-webkit-text-stroke-width:0.11px">h</span>
<span class="g si" style="left:381.69px;top:906.30px;font-size:65.0px;transform:scale(0.9172,1.0000) skewX(-6.84deg);-webkit-text-stroke-width:0.30px">S</span>
<span class="g si su" style="left:412.99px;top:899.80px;font-size:44.0px;transform:scale(0.9448,1.0000)">K</span>
<span class="g si su" style="left:477.73px;top:899.80px;font-size:44.0px;transform:scale(0.9358,1.0000)">Q</span>
<span class="g si" style="left:575.24px;top:906.30px;font-size:65.0px;transform:scale(0.9257,1.0000) skewX(-6.84deg);-webkit-text-stroke-width:0.30px">S</span>
<span class="g si su" style="left:603.39px;top:936.50px;font-size:44.0px;transform:scale(0.9542,1.0000)">K</span>
<span class="g si su" style="left:669.24px;top:936.50px;font-size:44.0px;transform:scale(0.9323,1.0000)">Q</span>
<span class="g si su" style="left:732.52px;top:899.80px;font-size:44.0px;transform:scale(0.9776,1.0000)">N</span>
<span class="g si su" style="left:801.53px;top:899.80px;font-size:44.0px;transform:scale(0.9779,1.0000)">R</span>
<span class="g si su" style="left:926.92px;top:936.50px;font-size:44.0px;transform:scale(0.9776,1.0000)">N</span>
<span class="g si su" style="left:995.93px;top:936.50px;font-size:44.0px;transform:scale(0.9779,1.0000)">R</span>
<span class="g si" style="left:1033.02px;top:906.30px;font-size:65.0px;transform:scale(0.7863,1.0000) skewX(-6.84deg);-webkit-text-stroke-width:0.40px">C</span>
<span class="g si" style="left:1260.19px;top:908.60px;font-size:65.0px;transform:scale(1.0464,1.0000) skewX(-5.71deg);-webkit-text-stroke-width:0.55px">W</span>
<span class="g si sm" style="left:1306.96px;top:937.50px;font-size:46.0px;transform:scale(1.3502,1.0000);-webkit-text-stroke-width:0.03px">m</span>
<span class="g si" style="left:1359.31px;top:908.60px;font-size:65.0px;transform:scale(0.9398,1.0000) skewX(-6.84deg);-webkit-text-stroke-width:0.30px">S</span>
<span class="g si su" style="left:1390.49px;top:902.10px;font-size:44.0px;transform:scale(0.9448,1.0000)">K</span>
<span class="g si su" style="left:1456.03px;top:902.10px;font-size:44.0px;transform:scale(0.9358,1.0000)">Q</span>
<span class="g si" style="left:1553.54px;top:908.60px;font-size:65.0px;transform:scale(0.9257,1.0000) skewX(-6.84deg);-webkit-text-stroke-width:0.30px">S</span>
<span class="g si su" style="left:1581.69px;top:938.80px;font-size:44.0px;transform:scale(0.9542,1.0000)">K</span>
<span class="g si su" style="left:1647.54px;top:938.80px;font-size:44.0px;transform:scale(0.9323,1.0000)">Q</span>
<span class="g si su" style="left:1710.82px;top:902.10px;font-size:44.0px;transform:scale(0.9776,1.0000)">N</span>
<span class="g si su" style="left:1779.83px;top:902.10px;font-size:44.0px;transform:scale(0.9779,1.0000)">R</span>
<span class="g si su" style="left:1905.22px;top:938.80px;font-size:44.0px;transform:scale(0.9776,1.0000)">N</span>
<span class="g si su" style="left:1974.23px;top:938.80px;font-size:44.0px;transform:scale(0.9779,1.0000)">R</span>
<span class="g si" style="left:2011.32px;top:908.60px;font-size:65.0px;transform:scale(0.7863,1.0000) skewX(-6.84deg);-webkit-text-stroke-width:0.40px">C</span>
<span class="g si sm" style="left:2053.03px;top:900.10px;font-size:46.0px;transform:scale(1.0493,1.0000);-webkit-text-stroke-width:0.39px">p</span>
<span class="g si sm" style="left:2112.62px;top:900.10px;font-size:46.0px;transform:scale(1.2165,1.0000);-webkit-text-stroke-width:0.19px">s</span>
</div>
</div></body></html>
